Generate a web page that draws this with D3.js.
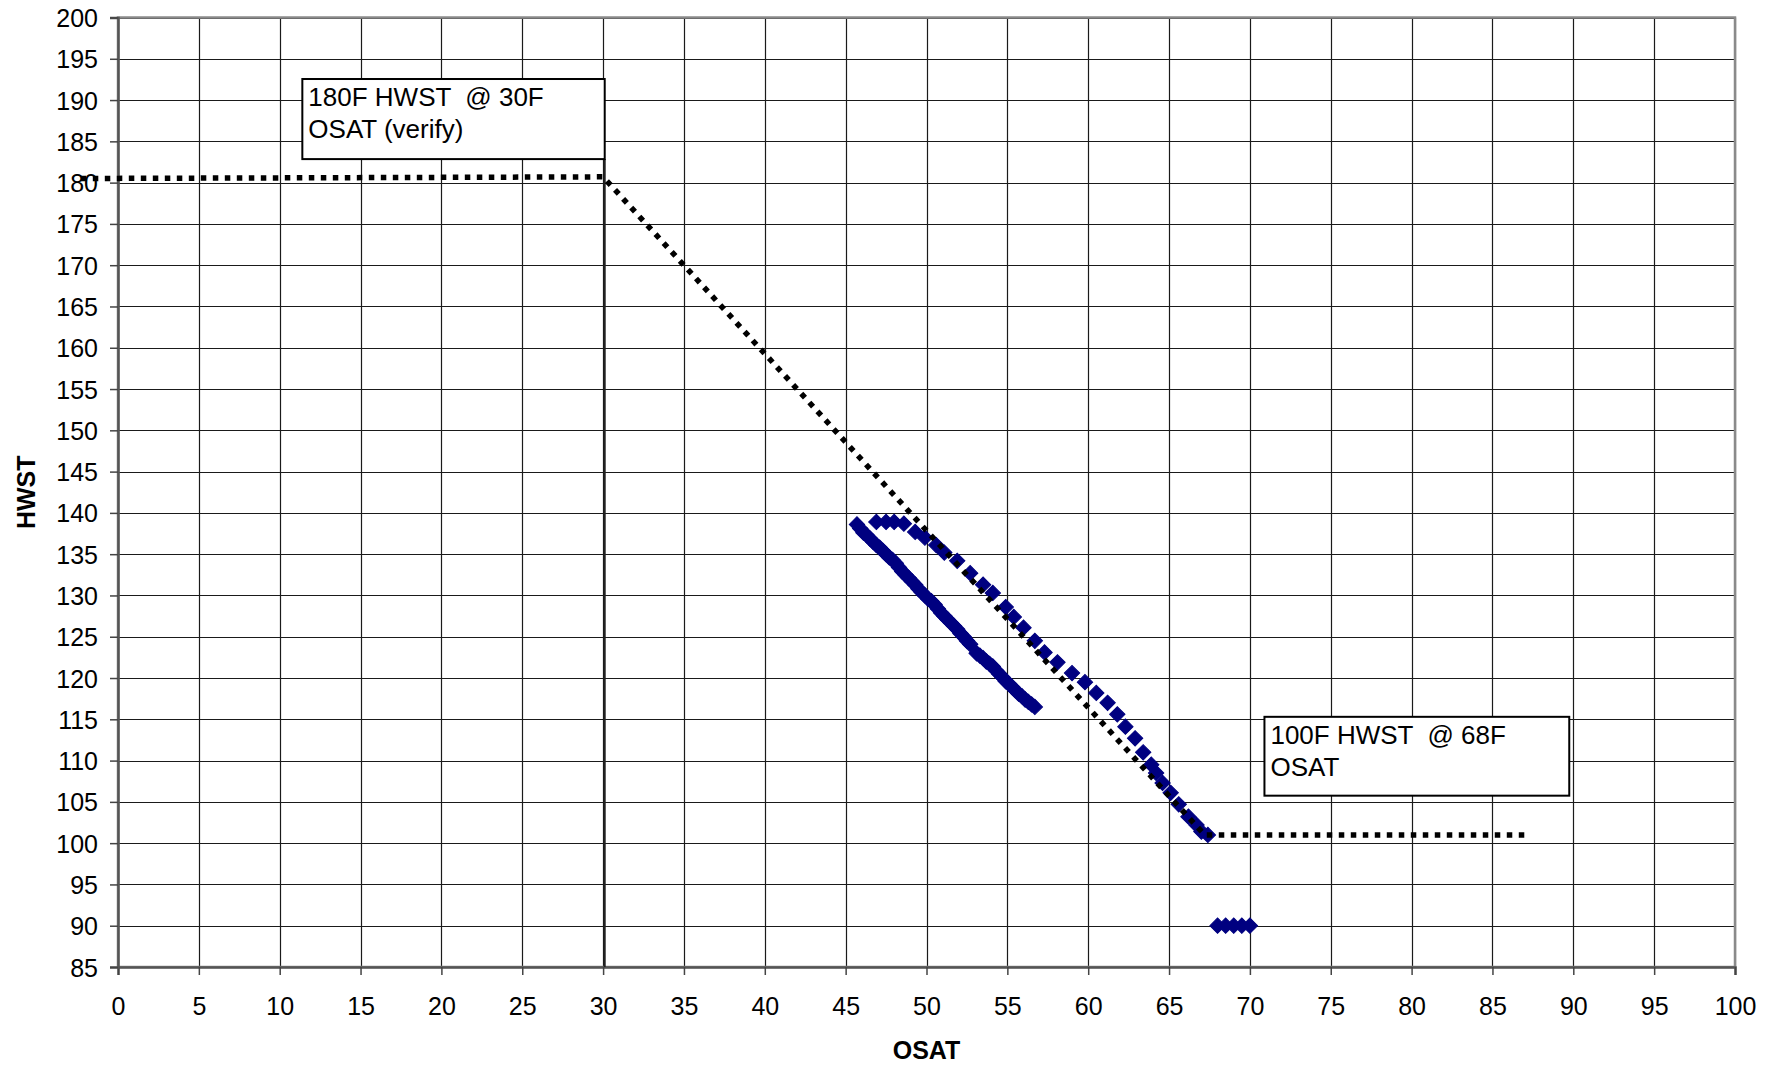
<!DOCTYPE html>
<html>
<head>
<meta charset="utf-8">
<script src="https://cdn.jsdelivr.net/npm/d3@7"></script>
<style>
  html, body { margin: 0; padding: 0; background: #fff; }
  svg { display: block; font-family: "Liberation Sans", Arial, sans-serif; }
</style>
</head>
<body>
<svg id="chart" width="1779" height="1068"></svg>
<script>
// Axis ticks
const xTickValues = [0, 5, 10, 15, 20, 25, 30, 35, 40, 45, 50, 55, 60, 65, 70, 75, 80, 85, 90, 95, 100];
const yTickValues = [85, 90, 95, 100, 105, 110, 115, 120, 125, 130, 135, 140, 145, 150, 155, 160, 165, 170, 175, 180, 185, 190, 195, 200];

// Measured HWST vs OSAT readings (lower band)
const lowerOsat = [45.7, 45.9, 46.1, 46.3, 46.5, 46.7, 46.9, 47.1, 47.3, 47.5, 47.7, 47.9, 48.1, 48.3, 48.5, 48.7, 48.9, 49.1, 49.3, 49.5, 49.7, 49.9, 50.1, 50.3, 50.5, 50.7, 50.9, 51.1, 51.3, 51.5, 51.7, 51.9, 52.1, 52.3, 52.5, 52.7, 53.1, 53.3, 53.5, 53.7, 53.9, 54.1, 54.3, 54.5, 54.7, 54.9, 55.1, 55.3, 55.5, 55.7, 55.9, 56.1, 56.3, 56.5, 56.7];
const lowerHwst = [138.6, 138.1, 137.6, 137.3, 136.9, 136.5, 136.1, 135.8, 135.4, 135.0, 134.6, 134.3, 133.9, 133.4, 132.9, 132.5, 132.1, 131.7, 131.3, 130.8, 130.4, 130.0, 129.6, 129.3, 128.9, 128.4, 127.9, 127.5, 127.1, 126.7, 126.3, 125.9, 125.4, 125.0, 124.5, 124.1, 123.0, 122.7, 122.4, 122.0, 121.7, 121.4, 120.9, 120.5, 120.1, 119.6, 119.3, 118.9, 118.5, 118.1, 117.8, 117.4, 117.1, 116.8, 116.5];

// Measured readings (upper band, following the reset schedule)
const upperOsat = [46.9, 47.5, 48.0, 48.6, 49.3, 49.9, 50.6, 51.1, 51.9, 52.7, 53.5, 54.1, 54.9, 55.4, 56.0, 56.7, 57.3, 58.1, 59.0, 59.8, 60.5, 61.2, 61.8, 62.3, 62.9, 63.4, 63.9, 64.2, 64.6, 65.1, 65.6, 66.2, 66.7, 67.0, 67.4];
const upperHwst = [138.9, 138.9, 138.9, 138.7, 137.7, 137.0, 136.1, 135.2, 134.2, 132.7, 131.3, 130.3, 128.6, 127.4, 126.1, 124.5, 123.1, 121.9, 120.6, 119.5, 118.2, 117.0, 115.6, 114.1, 112.7, 111.0, 109.5, 108.5, 107.3, 106.1, 104.7, 103.2, 102.2, 101.4, 101.0];

// Readings at the low limit
const lowOsat = [68.0, 68.5, 69.0, 69.5, 70.0];
const lowHwst = [90, 90, 90, 90, 90];

// Reset schedule (dotted guide)
const resetOsat = [-2.3, 30.0, 67.2, 87.0];
const resetHwst = [180.5, 180.7, 101.0, 101.0];

// Annotations
const notes = [
  { lines: ["180F HWST  @ 30F", "OSAT (verify)"], x: 11.4, y: 192.55, x2: 30.1, y2: 182.85 },
  { lines: ["100F HWST  @ 68F", "OSAT"], x: 70.9, y: 115.3, x2: 89.75, y2: 105.75 }
];

const svg = d3.select("#chart");
const plotLeft = 118, plotRight = 1735, plotTop = 17.5, plotBottom = 967;

const x = d3.scaleLinear().domain([0, 100]).range([plotLeft, plotRight]);
const y = d3.scaleLinear().domain([85, 200]).range([plotBottom, plotTop]);

// Grid
const grid = svg.append("g");
grid.selectAll("line.h").data(yTickValues).join("line")
  .attr("x1", plotLeft).attr("x2", plotRight)
  .attr("y1", d => Math.round(y(d)) + 0.5).attr("y2", d => Math.round(y(d)) + 0.5)
  .attr("stroke", "#1a1a1a").attr("stroke-width", 1.2);
grid.selectAll("line.v").data(xTickValues).join("line")
  .attr("y1", plotTop).attr("y2", plotBottom)
  .attr("x1", d => Math.round(x(d)) + 0.5).attr("x2", d => Math.round(x(d)) + 0.5)
  .attr("stroke", "#1a1a1a").attr("stroke-width", 1.2);

// Plot frame
svg.append("rect")
  .attr("x", plotLeft).attr("y", plotTop).attr("width", plotRight - plotLeft).attr("height", plotBottom - plotTop)
  .attr("fill", "none").attr("stroke", "#8a8a8a").attr("stroke-width", 2.5);

// Axes
const xAxis = d3.axisBottom(x).tickValues(xTickValues).tickSize(8).tickPadding(22).tickFormat(d3.format("d"));
const yAxis = d3.axisLeft(y).tickValues(yTickValues).tickSize(8).tickPadding(12).tickFormat(d3.format("d"));

const gx = svg.append("g").attr("transform", `translate(0,${plotBottom})`).call(xAxis);
const gy = svg.append("g").attr("transform", `translate(${plotLeft},0)`).call(yAxis);
[gx, gy].forEach(g => {
  g.select(".domain").attr("stroke", "#555").attr("stroke-width", 2.5);
  g.selectAll(".tick line").attr("stroke", "#444").attr("stroke-width", 1.5);
  g.selectAll(".tick text").attr("fill", "#000")
    .style("font-family", '"Liberation Sans", Arial, sans-serif').style("font-size", "25px");
});
gy.selectAll(".tick text").attr("dy", "0.36em");

// Axis titles
svg.append("text")
  .attr("x", (plotLeft + plotRight) / 2).attr("y", 1059)
  .attr("text-anchor", "middle").attr("font-weight", "bold").attr("font-size", "25px")
  .text("OSAT");
svg.append("text")
  .attr("transform", `translate(35,${(plotTop + plotBottom) / 2}) rotate(-90)`)
  .attr("text-anchor", "middle").attr("font-weight", "bold").attr("font-size", "25px")
  .text("HWST");

// Vertical marker at 30F OSAT
svg.append("line")
  .attr("x1", x(30.1)).attr("x2", x(30.1))
  .attr("y1", y(notes[0].y2)).attr("y2", plotBottom)
  .attr("stroke", "#222").attr("stroke-width", 2);

// Data points as diamonds
const diamond = d3.symbol().type(d3.symbolSquare).size(118);
const pts = svg.append("g");
function plotSeries(xs, ys) {
  pts.selectAll(null).data(xs.map((d, i) => [d, ys[i]])).join("path")
    .attr("d", diamond)
    .attr("transform", d => `translate(${x(d[0])},${y(d[1])}) rotate(45)`)
    .attr("fill", "#000080")
    .attr("stroke", "#000080").attr("stroke-width", 1);
}
plotSeries(lowerOsat, lowerHwst);
plotSeries(upperOsat, upperHwst);
plotSeries(lowOsat, lowHwst);

// Dotted reset schedule
const resetLine = d3.line().x(d => x(d[0])).y(d => y(d[1]));
svg.append("path")
  .attr("d", resetLine(resetOsat.map((d, i) => [d, resetHwst[i]])))
  .attr("fill", "none").attr("stroke", "#000").attr("stroke-width", 5.5)
  .attr("stroke-dasharray", "5.5 6.5");

// Annotation boxes
notes.forEach(n => {
  const g = svg.append("g");
  g.append("rect")
    .attr("x", x(n.x)).attr("y", y(n.y))
    .attr("width", x(n.x2) - x(n.x)).attr("height", y(n.y2) - y(n.y))
    .attr("fill", "#fff").attr("stroke", "#000").attr("stroke-width", 2);
  n.lines.forEach((t, i) => {
    g.append("text")
      .attr("x", x(n.x) + 6).attr("y", y(n.y) + 27 + i * 32)
      .attr("font-size", "26px").attr("fill", "#000")
      .style("white-space", "pre")
      .text(t);
  });
});
</script>
</body>
</html>
